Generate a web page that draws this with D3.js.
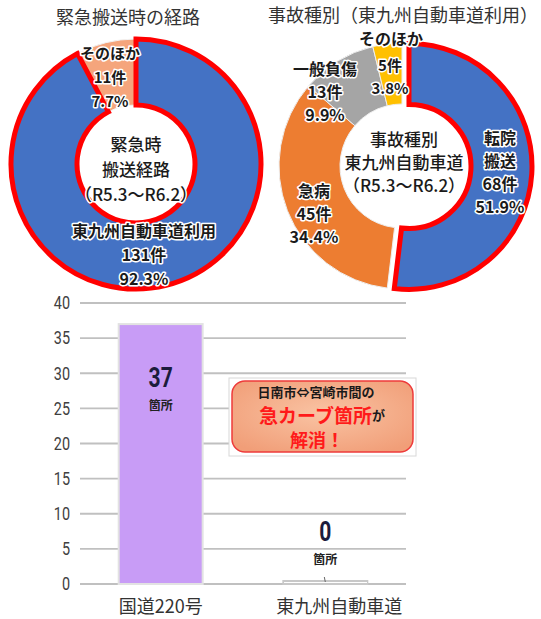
<!DOCTYPE html>
<html><head><meta charset="utf-8">
<script src="https://cdn.jsdelivr.net/npm/d3@7"></script>
<style>
html,body{margin:0;padding:0;background:#fff;}
svg{display:block;}
text{font-family:"Noto Sans CJK JP","Noto Sans",sans-serif;}
.halo{paint-order:stroke;stroke:#fff;stroke-width:3px;stroke-linejoin:round;}
.narrow{font-family:"Roboto","Liberation Sans",sans-serif;}
</style></head>
<body>
<svg id="c" width="541" height="619"></svg>
<script>
// ---------- data ----------
const routeLabels = ["東九州自動車道利用", "そのほか"];
const routeCounts = [131, 11];
const routePct = ["92.3%", "7.7%"];

const accidentLabels = ["転院搬送", "急病", "一般負傷", "そのほか"];
const accidentCounts = [68, 45, 13, 5];
const accidentPct = ["51.9%", "34.4%", "9.9%", "3.8%"];

const roadCategories = ["国道220号", "東九州自動車道"];
const curveCounts = [37, 0];
const yTicks = [0, 5, 10, 15, 20, 25, 30, 35, 40];

// ---------- drawing ----------
const svg = d3.select("#c");
const pie = d3.pie().sort(null).value(d => d);

// Left donut
const L = {cx: 136, cy: 164, ro: 125, ri: 59};
const gL = svg.append("g").attr("transform", `translate(${L.cx},${L.cy})`);
const arcL = d3.arc().innerRadius(L.ri).outerRadius(L.ro);
const routeColors = ["#4472C4", "#F5A57C"];
const pL = pie(routeCounts);
gL.selectAll("path.s").data(pL).join("path").attr("class","s")
  .attr("d", arcL).attr("fill", (d,i)=>routeColors[i])
  .attr("stroke", "#f2f2f2").attr("stroke-width", 1);
gL.append("path").attr("d", arcL(pL[0])).attr("fill","none")
  .attr("stroke","#FF0000").attr("stroke-width",5).attr("stroke-linejoin","miter");

svg.append("text").attr("x",128).attr("y",24).attr("text-anchor","middle")
  .attr("font-size",18).attr("fill","#333").text("緊急搬送時の経路");

function block(g, x, y, lines, size, gap, weight){
  lines.forEach((t,i)=>{
    g.append("text").attr("class","halo").attr("x",x).attr("y",y+i*gap)
     .attr("text-anchor","middle").attr("dominant-baseline","central")
     .attr("font-size",size).attr("font-weight",weight||500).attr("fill","#1a1a1a").text(t);
  });
}
// left labels
block(svg, 110, 52, [routeLabels[1], routeCounts[1]+"件", routePct[1]], 15, 24, 600);
block(svg, 144, 230, [routeLabels[0], routeCounts[0]+"件", routePct[0]], 16, 24, 600);
block(svg, 136, 143, ["緊急時","搬送経路","（R5.3～R6.2）"], 17, 25, 500);

// Right donut
const R = {cx: 402, cy: 166, ro: 123, ri: 62};
const gR = svg.append("g").attr("transform", `translate(${R.cx},${R.cy})`);
const arcR = d3.arc().innerRadius(R.ri).outerRadius(R.ro);
const accColors = ["#4472C4", "#ED7D31", "#A5A5A5", "#FFC000"];
const pR = pie(accidentCounts);
pR.forEach((d,i)=>{
  const off = i===0 ? 7 : 0;
  const mid = (d.startAngle + d.endAngle)/2;
  const tx = Math.sin(mid)*off, ty = -Math.cos(mid)*off;
  const p = gR.append("path").attr("d", arcR(d)).attr("transform",`translate(${tx},${ty})`)
    .attr("fill", accColors[i]);
  if(i===0) p.attr("stroke","#FF0000").attr("stroke-width",5);
  else p.attr("stroke","#eeeeee").attr("stroke-width",1);
});
svg.append("text").attr("x",403).attr("y",22).attr("text-anchor","middle")
  .attr("font-size",18).attr("fill","#333").text("事故種別（東九州自動車道利用）");

block(svg, 500, 137, ["転院","搬送", accidentCounts[0]+"件", accidentPct[0]], 16, 23, 600);
block(svg, 314, 190, ["急病", accidentCounts[1]+"件", accidentPct[1]], 16, 23, 600);
block(svg, 325, 68, ["一般負傷", accidentCounts[2]+"件", accidentPct[2]], 16, 23, 600);
block(svg, 391, 38, ["そのほか"], 16, 23, 600);
block(svg, 390, 64, [accidentCounts[3]+"件", accidentPct[3]], 15, 23, 600);
block(svg, 404, 138, ["事故種別","東九州自動車道","（R5.3～R6.2）"], 17, 23, 500);

// Bar chart
const y = d3.scaleLinear().domain([0,40]).range([584,303]);
const x = d3.scaleBand().domain(roadCategories).range([80,406]).paddingInner(0.49).paddingOuter(0.235);
const gB = svg.append("g");
gB.selectAll("line.grid").data(yTicks).join("line").attr("class","grid")
  .attr("x1",80).attr("x2",406).attr("y1",d=>y(d)).attr("y2",d=>y(d))
  .attr("stroke","#c0c0c0").attr("stroke-width",1.8);
const yAxis = d3.axisLeft(y).tickValues(yTicks).tickSize(0).tickPadding(0);
const ga = gB.append("g").attr("transform","translate(70,0)").call(yAxis);
ga.select(".domain").remove();
ga.selectAll("text").attr("class","narrow").attr("font-family",null)
  .attr("font-size",18).attr("fill","#404040").attr("transform","scale(0.8,1)");

gB.selectAll("rect.bar").data(curveCounts).join("rect").attr("class","bar")
  .attr("x",(d,i)=>x(roadCategories[i])).attr("width",x.bandwidth())
  .attr("y",d=>d>0?y(d):y(0)-3).attr("height",d=>d>0?y(0)-y(d):3)
  .attr("fill",d=>d>0?"#C89CF6":"#ffffff")
  .attr("stroke",d=>d>0?"#e2e2e2":"#c8c8c8").attr("stroke-width",2);
// small leader for zero bar
gB.append("line").attr("x1",x(roadCategories[1])+x.bandwidth()/2).attr("x2",x(roadCategories[1])+x.bandwidth()/2-1)
  .attr("y1",y(0)-2).attr("y2",y(0)-7).attr("stroke","#666").attr("stroke-width",1);

curveCounts.forEach((v,i)=>{
  const cx = x(roadCategories[i])+x.bandwidth()/2;
  const ty = v>0 ? y(v)+54 : y(v)-52;
  gB.append("text").attr("class","narrow").attr("transform",`translate(${cx},${ty}) scale(0.78,1)`)
    .attr("text-anchor","middle").attr("dominant-baseline","central")
    .attr("font-weight","bold").attr("font-size",27).attr("fill","#1c1c3c").text(v);
  gB.append("text").attr("x",cx).attr("y",ty+26).attr("text-anchor","middle").attr("dominant-baseline","central")
    .attr("font-size",12).attr("font-weight",600).attr("fill","#222").text("箇所");
});
gB.selectAll("text.cat").data(roadCategories).join("text").attr("class","cat")
  .attr("x",(d,i)=>x(d)+x.bandwidth()/2+(i===1?14:0)).attr("y",605)
  .attr("text-anchor","middle").attr("dominant-baseline","central")
  .attr("font-size",18).attr("fill","#333").text(d=>d);

// Callout
const defs = svg.append("defs");
const rg = defs.append("radialGradient").attr("id","cg").attr("cx","50%").attr("cy","45%").attr("r","65%");
rg.append("stop").attr("offset","0%").attr("stop-color","#F9C3A3");
rg.append("stop").attr("offset","100%").attr("stop-color","#F19E78");
svg.append("rect").attr("x",229).attr("y",378).attr("width",187).attr("height",78)
  .attr("fill","#fff").attr("stroke","#d8d8d8").attr("stroke-width",1);
svg.append("rect").attr("x",232).attr("y",381).attr("width",181).attr("height",71).attr("rx",13)
  .attr("fill","url(#cg)").attr("stroke","#EE3B3B").attr("stroke-width",1.5);
svg.append("text").attr("x",316).attr("y",391).attr("text-anchor","middle").attr("dominant-baseline","central")
  .attr("font-size",13).attr("font-weight",700).attr("fill","#1a1a1a").text("日南市⇔宮崎市間の");
const t2 = svg.append("text").attr("x",322).attr("y",414).attr("text-anchor","middle").attr("dominant-baseline","central")
  .attr("font-weight",700);
t2.append("tspan").attr("font-size",19).attr("fill","#FF1A1A").text("急カーブ箇所");
t2.append("tspan").attr("font-size",13).attr("fill","#1a1a1a").text("が");
svg.append("text").attr("x",317).attr("y",439).attr("text-anchor","middle").attr("dominant-baseline","central")
  .attr("font-size",18).attr("font-weight",700).attr("fill","#FF1A1A").text("解消！");
</script>
</body></html>
